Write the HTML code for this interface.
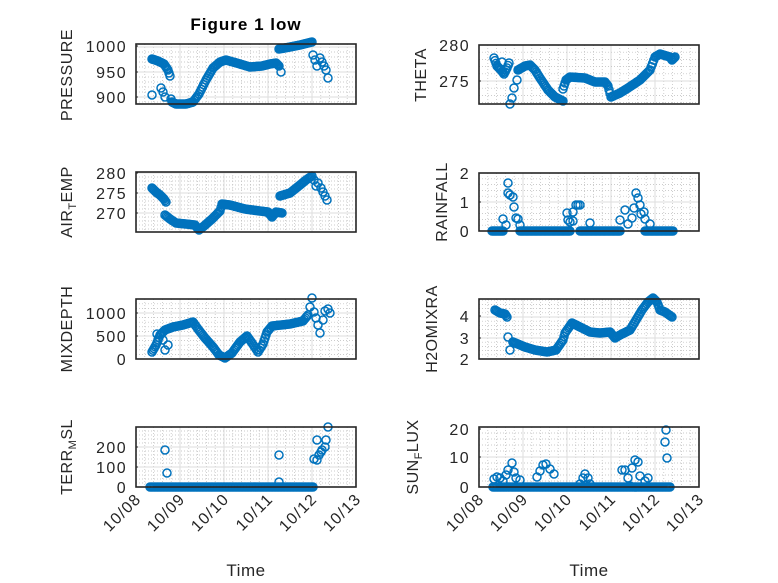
<!DOCTYPE html>
<html><head><meta charset="utf-8"><style>
html,body{margin:0;padding:0;background:#fff}
svg{display:block;font-family:"Liberation Sans","DejaVu Sans",sans-serif}
</style></head><body>
<svg id="s" width="778" height="583" viewBox="0 0 778 583" xmlns="http://www.w3.org/2000/svg">
<rect width="778" height="583" fill="#fff"/>
<text x="246" y="30" font-size="17" font-weight="bold" letter-spacing="1" text-anchor="middle" fill="#000">Figure 1 low</text>
<g id="g"></g>
<g font-size="16" fill="#262626" letter-spacing="0.5">
<text transform="translate(72,75) rotate(-90)" text-anchor="middle">PRESSURE</text>
<text transform="translate(72,202) rotate(-90)" text-anchor="middle">AIR<tspan font-size="11" dy="4">T</tspan><tspan dy="-4">EMP</tspan></text>
<text transform="translate(72,329) rotate(-90)" text-anchor="middle">MIXDEPTH</text>
<text transform="translate(72,457) rotate(-90)" text-anchor="middle">TERR<tspan font-size="11" dy="4">M</tspan><tspan dy="-4">SL</tspan></text>
<text transform="translate(426,75) rotate(-90)" text-anchor="middle">THETA</text>
<text transform="translate(447,202) rotate(-90)" text-anchor="middle">RAINFALL</text>
<text transform="translate(437,329) rotate(-90)" text-anchor="middle">H2OMIXRA</text>
<text transform="translate(418,457) rotate(-90)" text-anchor="middle">SUN<tspan font-size="11" dy="4">F</tspan><tspan dy="-4">LUX</tspan></text>
<text x="246" y="576" text-anchor="middle" font-size="17">Time</text>
<text x="589" y="576" text-anchor="middle" font-size="17">Time</text>
</g>
</svg>
<script>
var G=document.getElementById("g"),h="";
function ax(L,T,R,B,yt){
 var W=R-L;
 for(var i=0;i<=25;i++){var x=L+W*i/25;if(i%5)h+='<line x1="'+x+'" y1="'+T+'" x2="'+x+'" y2="'+B+'" stroke="#bbb" stroke-width="0.7" stroke-dasharray="1,2"/>';}
 for(var i=1;i<5;i++){var x=L+W*i/5;h+='<line x1="'+x+'" y1="'+T+'" x2="'+x+'" y2="'+B+'" stroke="#ddd" stroke-width="1"/>';}
 var sp=yt.length>1?(yt[0][0]-yt[1][0]):20;
 var y0=yt[0][0];
 for(var k=-15;k<30;k++){var y=y0-k*sp/5;if(y<=T||y>=B)continue;if(k%5==0)h+='<line x1="'+L+'" y1="'+y+'" x2="'+R+'" y2="'+y+'" stroke="#ddd" stroke-width="1"/>';else h+='<line x1="'+L+'" y1="'+y+'" x2="'+R+'" y2="'+y+'" stroke="#bbb" stroke-width="0.7" stroke-dasharray="1,2"/>';}
 yt.forEach(function(t){h+='<text x="'+(L-9)+'" y="'+(t[0]+6)+'" font-size="16" letter-spacing="1.4" text-anchor="end" fill="#262626">'+t[1]+'</text>';h+='<line x1="'+L+'" y1="'+t[0]+'" x2="'+(L+2)+'" y2="'+t[0]+'" stroke="#262626"/>';});
 return [L,T,R,B];
}
function box(b){h+='<rect x="'+b[0]+'" y="'+b[1]+'" width="'+(b[2]-b[0])+'" height="'+(b[3]-b[1])+'" fill="none" stroke="#262626" stroke-width="1.6"/>';}
function pts(arr){arr.forEach(function(p){h+='<circle cx="'+p[0]+'" cy="'+p[1]+'" r="4" fill="none" stroke="#0072BD" stroke-width="1.5"/>';});}
function line(k,step){var o=[];step=step||1.3;for(var i=0;i<k.length-1;i++){var a=k[i],b=k[i+1],n=Math.max(1,Math.ceil(Math.abs(b[0]-a[0])/step));for(var j=0;j<n;j++)o.push([a[0]+(b[0]-a[0])*j/n,a[1]+(b[1]-a[1])*j/n]);}o.push(k[k.length-1]);pts(o);}
function xl(L,R,B){var W=R-L,d=["10/08","10/09","10/10","10/11","10/12","10/13"];for(var i=0;i<6;i++){var x=L+W*i/5;h+='<text transform="translate('+(x+6)+','+(B+13)+') rotate(-45)" font-size="16" letter-spacing="1.2" text-anchor="end" fill="#262626">'+d[i]+'</text>';}}
var b;
b=ax(136,44,356,104,[[97,900],[72,950],[46,1000]]);
line([[152,59],[158,61],[164,64],[168,70],[170,76]]);pts([[152,95],[161,88],[163,92],[165,97],[171,99]]);
line([[172,102],[176,104],[186,104],[193,102],[199,94],[206,80],[213,68],[220,62],[226,60],[240,64],[250,67],[262,66],[270,64],[276,63],[278,65]]);pts([[281,72],[279,66]]);
line([[279,49],[290,47],[300,45],[312,42]]);pts([[313,55],[315,60],[317,66],[320,58],[322,62],[324,66],[326,70],[328,78]]);
box(b);
b=ax(136,172,356,232,[[213,270],[193,275],[173,280]]);
line([[152,188],[156,192],[160,195],[164,199],[166,202]]);
line([[165,215],[170,219],[176,223],[186,224],[195,225],[199,230],[204,226],[212,219],[220,211],[222,204],[230,205],[245,209],[260,211],[268,212],[272,217],[276,212],[282,213]]);
line([[280,196],[290,193],[300,185],[306,180],[312,176]]);pts([[314,180],[316,186],[318,183],[321,188],[323,192],[325,196],[327,200]]);
box(b);
b=ax(136,299,356,359,[[359,0],[336,500],[313,1000]]);
line([[152,352],[156,345],[160,335],[165,330],[173,327],[183,325],[193,322],[198,329],[205,338],[213,347],[219,355],[225,358],[232,353],[240,342],[247,336],[252,343],[258,352],[263,344],[267,332],[272,326],[290,324],[303,321],[308,315]]);
pts([[157,334],[165,350],[163,340],[168,345],[312,298],[310,307],[314,312],[316,318],[318,325],[320,333],[323,320],[325,311],[328,309],[330,313]]);
box(b);
b=ax(136,427,356,487,[[487,0],[467,100],[447,200]]);
line([[150,487],[313,487]],1.5);
pts([[165,450],[167,473],[279,455],[279,482],[314,459],[317,460],[319,455],[321,452],[317,440],[322,450],[325,447],[326,440],[328,427]]);
box(b);xl(136,356,487);
b=ax(479,45,699,104,[[81,275],[45,280]]);
line([[494,58],[497,66],[501,70],[504,74],[507,68],[509,63]]);pts([[510,104],[512,98],[514,88],[517,80],[502,62]]);
line([[518,70],[525,66],[530,65],[535,70],[540,78],[548,90],[555,97],[563,101]]);
line([[563,89],[566,80],[570,77],[585,78],[595,82],[605,82],[608,86],[611,97],[620,93],[628,88],[640,80],[650,70],[655,57],[660,54],[670,57],[672,60],[675,57]]);
box(b);
b=ax(479,173,699,231,[[231,0],[202,1],[173,2]]);
line([[492,231],[503,231]]);pts([[503,219],[506,225],[508,193],[508,183],[510,195],[513,197],[514,207],[516,218],[518,219],[520,225]]);
line([[520,231],[570,231]]);pts([[567,213],[568,220],[570,222],[573,212],[576,205],[578,205],[580,205],[573,221]]);
line([[580,231],[620,231]]);pts([[590,223],[620,220],[625,210],[628,224],[632,218],[634,208],[636,193],[638,198],[640,205],[641,214],[644,212],[645,219],[650,224]]);
line([[645,231],[673,231]]);
box(b);
b=ax(479,299,699,359,[[359,2],[338,3],[316,4]]);
line([[495,310],[500,313],[505,314],[507,317]]);pts([[508,337],[510,350],[513,342]]);
line([[513,342],[525,347],[535,350],[547,352],[556,350],[563,340],[565,333],[572,323],[580,327],[590,332],[600,333],[610,332],[615,338],[620,335],[630,330],[636,320],[642,310],[648,302],[653,298],[657,302],[660,310],[665,312],[672,317]]);
box(b);
b=ax(479,427,699,487,[[487,0],[457,10],[429,20]]);
line([[493,487],[670,487]],1.5);
pts([[494,479],[497,477],[500,478],[503,481],[506,475],[508,470],[512,463],[514,472],[516,478],[520,480],[537,477],[540,471],[543,465],[546,464],[550,469],[554,474],[580,484],[583,478],[585,474],[588,478],[590,484],[622,470],[625,470],[628,478],[630,486],[632,468],[635,460],[638,462],[640,476],[645,481],[648,478],[666,430],[665,442],[667,458]]);
box(b);xl(479,699,487);
G.innerHTML=h;
</script>
</body></html>
